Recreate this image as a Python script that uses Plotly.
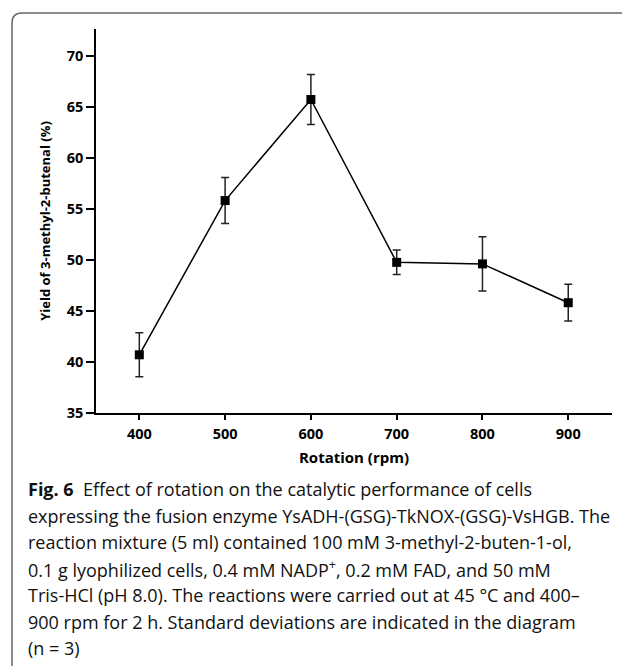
import plotly.graph_objects as go

rpm = [400, 500, 600, 700, 800, 900]
yield_pct = [40.7, 55.8, 65.7, 49.75, 49.6, 45.8]
sd = [2.15, 2.25, 2.45, 1.2, 2.65, 1.8]
x_ticks = [400, 500, 600, 700, 800, 900]
y_ticks = [35, 40, 45, 50, 55, 60, 65, 70]

caption_lines = [
    "<b>Fig. 6</b>  Effect of rotation on the catalytic performance of cells",
    "expressing the fusion enzyme YsADH-(GSG)-TkNOX-(GSG)-VsHGB. The",
    "reaction mixture (5 ml) contained 100 mM 3-methyl-2-buten-1-ol,",
    "0.1 g lyophilized cells, 0.4 mM NADP<sup>+</sup>, 0.2 mM FAD, and 50 mM",
    "Tris-HCl (pH 8.0). The reactions were carried out at 45 °C and 400–",
    "900 rpm for 2 h. Standard deviations are indicated in the diagram",
    "(n = 3)",
]

W, H = 622, 666
L, R, T, B = 96, 10, 29, 253
pw = W - L - R
ph = H - T - B

def px_x(x):
    return (x - L) / pw

def px_y(y):
    return (H - B - y) / ph

fig = go.Figure()
fig.add_trace(go.Scatter(
    x=rpm, y=yield_pct,
    mode="lines+markers",
    line=dict(color="black", width=1.5),
    marker=dict(symbol="square", size=9, color="black"),
    error_y=dict(type="data", array=sd, visible=True, color="#222", thickness=1.5, width=4),
    showlegend=False,
))

font_main = "Open Sans, Noto Sans, DejaVu Sans, sans-serif"

fig.update_layout(
    width=W, height=H,
    margin=dict(l=L, r=R, t=T, b=B),
    paper_bgcolor="white", plot_bgcolor="white",
    font=dict(family=font_main, color="black"),
    xaxis=dict(
        range=[349.5, 951], tickvals=x_ticks, ticktext=[f"<b>{v}</b>" for v in x_ticks],
        showline=True, linecolor="black", linewidth=1.5, ticks="outside", ticklen=5,
        tickwidth=1.5, tickcolor="black", showgrid=False, zeroline=False,
        tickfont=dict(size=14.5, family=font_main), ticklabelstandoff=2,
        title=dict(text="<b>Rotation (rpm)</b>", font=dict(size=15, family=font_main), standoff=10),
    ),
    yaxis=dict(
        range=[35, 72.6], tickvals=y_ticks, ticktext=[f"<b>{v}</b>" for v in y_ticks],
        showline=True, linecolor="black", linewidth=1.5, ticks="outside", ticklen=8,
        tickwidth=1.5, tickcolor="black", showgrid=False, zeroline=False,
        tickfont=dict(size=14.5, family=font_main),
        title=dict(text="<b>Yield of 3-methyl-2-butenal (%)</b>", font=dict(size=13, family=font_main), standoff=13),
    ),
)

# caption lines
y0 = 489
for i, line in enumerate(caption_lines):
    fig.add_annotation(
        text=line, xref="paper", yref="paper",
        x=px_x(26), y=px_y(y0 + i * 26.5),
        xanchor="left", yanchor="middle", showarrow=False, align="left",
        font=dict(size=18, family=font_main, color="#111"),
    )

# rounded frame (top-left corner)
x0 = px_x(12)
xr = px_x(640)
yt = px_y(13)
yb = px_y(680)
rx = 10 / pw
ry = 10 / ph
fig.add_shape(
    type="path", xref="paper", yref="paper",
    path=f"M {x0},{yb} L {x0},{yt - ry} Q {x0},{yt} {x0 + rx},{yt} L {xr},{yt}",
    line=dict(color="#666", width=1.5),
)

fig.write_html("out.html")
